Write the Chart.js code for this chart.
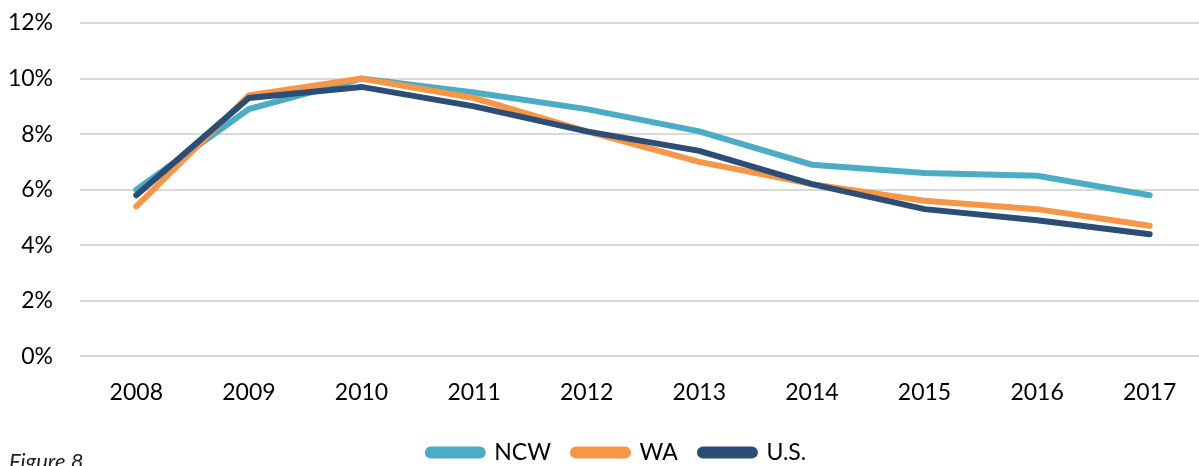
<!DOCTYPE html>
<html>
<head>
<meta charset="utf-8">
<script src="https://cdn.jsdelivr.net/npm/chart.js@4.4.0/dist/chart.umd.min.js"></script>
<style>
  html, body { margin: 0; padding: 0; background: #fff; overflow: hidden; }
  #wrap { position: relative; width: 1228px; height: 466px; }
</style>
</head>
<body>
<div id="wrap"><canvas id="rateChart"></canvas></div>
<script>
var years = ['2008', '2009', '2010', '2011', '2012', '2013', '2014', '2015', '2016', '2017'];
var ncw = [6.0, 8.9, 10.0, 9.5, 8.9, 8.1, 6.9, 6.6, 6.5, 5.8];
var wa = [5.4, 9.4, 10.0, 9.3, 8.1, 7.0, 6.2, 5.6, 5.3, 4.7];
var us = [5.8, 9.3, 9.7, 9.0, 8.1, 7.4, 6.2, 5.3, 4.9, 4.4];
var yTicks = [0, 2, 4, 6, 8, 10, 12];

Chart.defaults.font.family = 'Lato, "Liberation Sans", sans-serif';
Chart.defaults.color = '#000';

// caption under the chart, bottom left
var figureLabel = {
    id: 'figureLabel',
    afterLayout: function (chart) {
        // nudge the legend to where it sits in the original
        var lg = chart.legend;
        lg.left += 14; lg.right += 14;
        lg.top -= 1; lg.bottom -= 1;
    },
    afterDraw: function (chart) {
        var c = chart.ctx;
        c.save();
        c.font = 'italic 22px Lato, sans-serif';
        c.fillStyle = '#222';
        c.textBaseline = 'top';
        c.fillText('Figure 8', 9, 451);
        c.restore();
    }
};

function line(label, data, color, order) {
    return {
        label: label,
        data: data,
        borderColor: color,
        backgroundColor: color,
        borderWidth: 6,
        borderCapStyle: 'round',
        borderJoinStyle: 'miter',
        pointRadius: 0,
        tension: 0,
        order: order
    };
}

var ctx = document.getElementById('rateChart').getContext('2d');
var rateChart = new Chart(ctx, {
    type: 'line',
    data: {
        labels: years,
        datasets: [
            line('NCW', ncw, '#4BACC6', 2),
            line('WA', wa, '#F79646', 1),
            line('U.S.', us, '#2C4D75', 0)
        ]
    },
    options: {
        responsive: true,
        maintainAspectRatio: false,
        animation: false,
        layout: { padding: { top: 23, right: 22, left: 0, bottom: -9 } },
        plugins: {
            tooltip: { enabled: false },
            legend: {
                position: 'bottom',
                labels: {
                    boxWidth: 55,
                    boxHeight: 6,
                    useBorderRadius: true,
                    borderRadius: 3,
                    padding: 22,
                    font: { size: 23 },
                    sort: function (a, b) { return a.datasetIndex - b.datasetIndex; }
                }
            }
        },
        scales: {
            x: {
                offset: true,
                grid: { display: false },
                border: { display: false },
                ticks: { font: { size: 23 }, padding: 14, maxRotation: 0 }
            },
            y: {
                min: 0,
                max: 12,
                afterFit: function (axis) {
                    axis.width = 80;
                    axis.paddingTop = 0;
                    axis.paddingBottom = 0;
                },
                afterBuildTicks: function (axis) {
                    axis.ticks = yTicks.map(function (v) { return { value: v }; });
                },
                grid: { color: '#D9D9D9', lineWidth: 2, drawTicks: false },
                border: { display: false },
                ticks: {
                    font: { size: 23 },
                    padding: 27,
                    callback: function (value) { return value + '%'; }
                }
            }
        }
    },
    plugins: [figureLabel]
});
</script>
</body>
</html>
